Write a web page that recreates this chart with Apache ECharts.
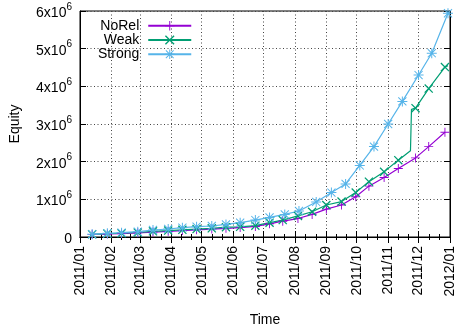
<!DOCTYPE html>
<html>
<head>
<meta charset="utf-8">
<script src="https://cdn.jsdelivr.net/npm/echarts@6/dist/echarts.min.js"></script>
<style>
  html, body { margin: 0; padding: 0; background: #fff; }
  #chart { width: 455px; height: 331px; }
</style>
</head>
<body>
<div id="chart"></div>
<script>
// Equity curves of three strategies over 2011 (daily close, marker every ~10 trading days)
const seriesNames = ['NoRel', 'Weak', 'Strong'];

const noRelDates = ['2011-01-13','2011-01-28','2011-02-11','2011-02-27','2011-03-14','2011-03-29',
  '2011-04-12','2011-04-26','2011-05-11','2011-05-25','2011-06-08','2011-06-23','2011-07-07',
  '2011-07-20','2011-08-04','2011-08-18','2011-09-01','2011-09-16','2011-09-30','2011-10-13',
  '2011-10-28','2011-11-11','2011-11-28','2011-12-11','2011-12-27'];
const noRelValues = [70000, 80000, 90000, 110000, 130000, 150000,
  170000, 190000, 210000, 230000, 250000, 280000, 350000,
  420000, 490000, 600000, 740000, 850000, 1070000, 1350000,
  1580000, 1820000, 2100000, 2400000, 2780000];
const noRelMarks = noRelDates.map(() => 1);

const weakDates = ['2011-01-13','2011-01-28','2011-02-11','2011-02-27','2011-03-14','2011-03-29',
  '2011-04-12','2011-04-26','2011-05-11','2011-05-25','2011-06-08','2011-06-23','2011-07-07',
  '2011-07-20','2011-08-04','2011-08-18','2011-09-01','2011-09-16','2011-09-30','2011-10-13',
  '2011-10-28','2011-11-11','2011-11-23','2011-11-24','2011-11-28','2011-12-11','2011-12-27','2011-12-30'];
const weakValues = [70000, 90000, 100000, 120000, 150000, 170000,
  190000, 210000, 230000, 260000, 270000, 300000, 380000,
  450000, 560000, 670000, 850000, 940000, 1180000, 1470000,
  1730000, 2040000, 2290000, 3390000, 3420000, 3940000, 4510000, 4550000];
const weakMarks = [1,1,1,1,1,1, 1,1,1,1,1,1,1, 1,1,1,1,1,1,1, 1,1,0,0,1,1,1,0];

const strongDates = ['2011-01-13','2011-01-28','2011-02-11','2011-02-27','2011-03-14','2011-03-29',
  '2011-04-12','2011-04-26','2011-05-11','2011-05-25','2011-06-08','2011-06-23','2011-07-07',
  '2011-07-22','2011-08-05','2011-08-22','2011-09-06','2011-09-20','2011-10-04','2011-10-18',
  '2011-11-01','2011-11-15','2011-12-01','2011-12-14','2011-12-30'];
const strongValues = [72000, 98000, 114000, 141000, 186000, 212000,
  247000, 273000, 292000, 335000, 380000, 450000, 520000,
  600000, 690000, 930000, 1180000, 1410000, 1900000, 2400000,
  3000000, 3600000, 4300000, 4880000, 5940000];
const strongMarks = strongDates.map(() => 1);

// Axis range and ticks
const xStart = new Date(2011, 0, 1).getTime();
const xEnd = new Date(2012, 0, 1).getTime();
const yMax = 6000000;
const yStep = 1000000;

// Point shapes drawn as filled outlines: plus, cross, asterisk
const plusPath = 'path://M0,4.5H10V5.5H0Z M4.5,0H5.5V10H4.5Z';
const crossPath = 'path://M0,1L1,0L10,9L9,10Z M9,0L10,1L1,10L0,9Z';
const starPath = 'path://M0,4.5H10V5.5H0Z M4.5,0H5.5V10H4.5Z M0.6,1.3L1.3,0.6L9.4,8.7L8.7,9.4Z M8.7,0.6L9.4,1.3L1.3,9.4L0.6,8.7Z';

const colors = ['#9400d3', '#009e73', '#56b4e9'];
const FONT = 'Liberation Sans, Arial, sans-serif';

function toData(dates, values, marks) {
  return dates.map((d, i) => marks[i]
    ? { value: [d, values[i]] }
    : { value: [d, values[i]], symbol: 'none' });
}

function makeSeries(name, color, symbol, size, dates, values, marks) {
  return {
    name: name,
    type: 'line',
    xAxisIndex: 0,
    yAxisIndex: 0,
    data: toData(dates, values, marks),
    symbol: symbol,
    symbolSize: size,
    showAllSymbol: true,
    lineStyle: { color: color, width: 1.2 },
    itemStyle: { color: color },
    emphasis: { disabled: true },
    animation: false
  };
}

const gridLine = { show: true, lineStyle: { color: '#444', width: 1, type: [1, 2.5] } };

const chart = echarts.init(document.getElementById('chart'), null, { renderer: 'canvas' });
chart.setOption({
  animation: false,
  backgroundColor: '#fff',
  textStyle: { fontFamily: FONT },
  grid: {
    left: 80, right: 5, top: 11, bottom: 94,
    show: true, borderColor: '#000', borderWidth: 1,
    containLabel: false, outerBoundsMode: 'none'
  },
  legend: {
    data: seriesNames,
    orient: 'vertical',
    align: 'right',
    left: 98,
    top: 18.7,
    padding: 0,
    itemGap: 0.3,
    itemWidth: 43,
    itemHeight: 12,
    selectedMode: false,
    textStyle: { fontSize: 14, color: '#000', fontFamily: FONT, lineHeight: 14, padding: [0, 4, 0, 0] }
  },
  xAxis: [{
    type: 'time',
    position: 'bottom',
    min: xStart,
    max: xEnd,
    splitNumber: 12,
    minInterval: 28 * 86400000,
    maxInterval: 31 * 86400000,
    name: 'Time',
    nameLocation: 'middle',
    nameGap: 76,
    nameTextStyle: { fontSize: 14, color: '#000', fontFamily: FONT },
    axisLine: { show: true, lineStyle: { color: '#000', width: 1 } },
    axisTick: { show: true, inside: true, length: 6, lineStyle: { color: '#000' } },
    minorTick: { show: true, splitNumber: 3, length: 3, lineStyle: { color: '#000' } },
    axisLabel: {
      rotate: 90, margin: 9, fontSize: 14, color: '#000', fontFamily: FONT,
      formatter: '{yyyy}/{MM}', showMinLabel: true, showMaxLabel: true, hideOverlap: false
    },
    splitLine: gridLine
  }, {
    type: 'time',
    position: 'top',
    min: xStart,
    max: xEnd,
    splitNumber: 12,
    minInterval: 28 * 86400000,
    maxInterval: 31 * 86400000,
    axisLine: { show: true, lineStyle: { color: '#000', width: 1 } },
    axisTick: { show: true, inside: true, length: 6, lineStyle: { color: '#000' } },
    minorTick: { show: true, splitNumber: 3, length: 3, lineStyle: { color: '#000' } },
    axisLabel: { show: false },
    splitLine: { show: false }
  }],
  yAxis: [{
    type: 'value',
    position: 'left',
    min: 0,
    max: yMax,
    interval: yStep,
    name: 'Equity',
    nameLocation: 'middle',
    nameGap: 58,
    nameTextStyle: { fontSize: 14, color: '#000', fontFamily: FONT },
    axisLine: { show: true, lineStyle: { color: '#000', width: 1 } },
    axisTick: { show: true, inside: true, length: 6, lineStyle: { color: '#000' } },
    axisLabel: {
      margin: 8, color: '#000', fontFamily: FONT,
      formatter: function (v) {
        return v === 0 ? '{m|0}' : '{m|' + (v / 1e6) + 'x10}{e|6}';
      },
      rich: {
        m: { fontSize: 14, lineHeight: 18, verticalAlign: 'bottom', color: '#000', fontFamily: FONT },
        e: { fontSize: 10, lineHeight: 10, verticalAlign: 'top', color: '#000', fontFamily: FONT }
      }
    },
    splitLine: gridLine
  }, {
    type: 'value',
    position: 'right',
    min: 0,
    max: yMax,
    interval: yStep,
    axisLine: { show: true, lineStyle: { color: '#000', width: 1 } },
    axisTick: { show: true, inside: true, length: 6, lineStyle: { color: '#000' } },
    axisLabel: { show: false },
    splitLine: { show: false }
  }],
  series: [
    makeSeries(seriesNames[0], colors[0], plusPath, 9, noRelDates, noRelValues, noRelMarks),
    makeSeries(seriesNames[1], colors[1], crossPath, 9, weakDates, weakValues, weakMarks),
    makeSeries(seriesNames[2], colors[2], starPath, 10, strongDates, strongValues, strongMarks)
  ]
});
</script>
</body>
</html>
